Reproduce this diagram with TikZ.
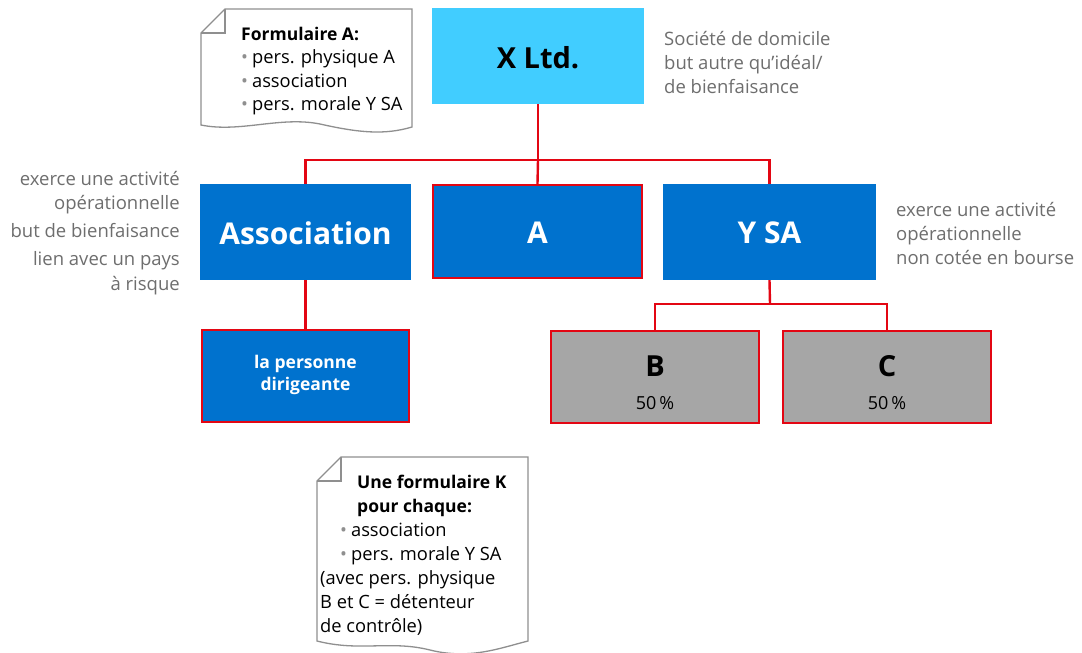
\documentclass[tikz,border=0pt]{standalone}
\usepackage{fontspec}
\setmainfont{Open Sans}
\definecolor{cyanbox}{HTML}{41CDFF}
\definecolor{bluebox}{HTML}{0072CE}
\definecolor{graybox}{HTML}{A6A6A6}
\definecolor{redline}{HTML}{E30613}
\definecolor{graytxt}{HTML}{6E6E6E}
\definecolor{docline}{HTML}{8F8F8F}
\definecolor{bulletc}{HTML}{8F8F8F}
\newcommand{\bul}{{\color{bulletc}\textbullet}\hspace{4pt}}
\tikzset{
  box/.style={rectangle, inner sep=0pt, minimum width=211pt, minimum height=96pt, align=center},
  redborder/.style={draw=redline, line width=2.4pt},
  conn/.style={draw=redline, line width=2.4pt},
  bigw/.style={text=white, font=\fontsize{30}{32}\selectfont\bfseries},
  bigk/.style={text=black, font=\fontsize{29}{32}\selectfont\bfseries},
  note/.style={text=graytxt, font=\fontsize{18.5}{22}\selectfont, inner sep=0pt},
  doctxt/.style={text=black, font=\fontsize{18.3}{22}\selectfont, inner sep=0pt, anchor=base west},
  docbold/.style={doctxt, font=\fontsize{17.5}{22}\selectfont\bfseries},
  docshape/.style={draw=docline, line width=1.3pt, fill=white},
}
\begin{document}
\begin{tikzpicture}[x=1pt,y=-1pt]
\useasboundingbox[fill=white] (0,0) rectangle (1082,653);

% boxes
\node[box, fill=cyanbox, minimum width=212pt] (x) at (538,56) {};
\node[bigk] (xl) at (538,58) {X Ltd.};
\node[box, fill=bluebox] (assoc) at (305.5,232) {};
\node[bigw] (assocl) at (305.5,233) {Association};
\node[box, fill=bluebox, redborder, minimum width=209pt, minimum height=93pt] (a) at (537.5,231.5) {};
\node[bigw] (al) at (537.5,233) {A};
\node[box, fill=bluebox, minimum width=213pt] (ysa) at (769.5,232) {};
\node[bigw] (ysal) at (769.5,233) {Y SA};
\node[box, fill=bluebox, redborder, minimum width=207pt, minimum height=92pt] (pers) at (305.5,376) {};
\node[text=white, font=\fontsize{17.5}{22}\selectfont\bfseries, align=center] (persl) at (305.5,375) {la personne\\dirigeante};
\node[box, fill=graybox, redborder, minimum width=208pt, minimum height=92pt] (b) at (655,377) {};
\node[bigk] (bl) at (655,366) {B};
\node[font=\fontsize{18}{20}\selectfont] (bp) at (655,403) {50\,\%};
\node[box, fill=graybox, redborder, minimum width=208pt, minimum height=92pt] (c) at (887,377) {};
\node[bigk] (cl) at (887,366) {C};
\node[font=\fontsize{18}{20}\selectfont] (cp) at (887,403) {50\,\%};

% connectors
\coordinate (j1) at (538,160);
\coordinate (j2) at (770,304);
\draw[conn] (x.south) -- (j1);
\draw[conn] (assoc.north) |- (j1) -| (ysa.north);
\draw[conn] (j1) -- (a.north);
\draw[conn] (assoc.south) -- (pers.north);
\draw[conn] (ysa.south) -- (j2);
\draw[conn] (b.north) |- (j2) -| (c.north);

% notes
\node[note, anchor=base west] (n1) at (664,45) {Société de domicile};
\node[note, anchor=base west] (n2) at (664,69) {but autre qu’idéal/};
\node[note, anchor=base west] (n3) at (664,93) {de bienfaisance};

\node[note, anchor=base east] (l1) at (180,185) {exerce une activité};
\node[note, anchor=base east] (l2) at (180,209) {opérationnelle};
\node[note, anchor=base east] (l3) at (180,237) {but de bienfaisance};
\node[note, anchor=base east] (l4) at (180,265) {lien avec un pays};
\node[note, anchor=base east] (l5) at (180,290) {à risque};

\node[note, anchor=base west] (r1) at (896,216) {exerce une activité};
\node[note, anchor=base west] (r2) at (896,240) {opérationnelle};
\node[note, anchor=base west] (r3) at (896,264) {non cotée en bourse};

% document A
\draw[docshape] (225,9) -- (412,9) -- (412,127)
  .. controls (385,135) and (360,133) .. (320,124)
  .. controls (280,116) and (240,133) .. (201,125) -- (201,33) -- cycle;
\draw[docshape, fill=none] (225,9) -- (225,33) -- (201,33);
\node[docbold] (fa0) at (241,40) {Formulaire A:};
\node[doctxt] (fa1) at (241,63.5) {\bul pers. physique A};
\node[doctxt] (fa2) at (241,87) {\bul association};
\node[doctxt] (fa3) at (241,110.5) {\bul pers. morale Y SA};

% document K
\draw[docshape] (341,457) -- (528,457) -- (528,641)
  .. controls (500,648) and (470,660) .. (430,650)
  .. controls (390,640) and (360,652) .. (317,641) -- (317,481) -- cycle;
\draw[docshape, fill=none] (341,457) -- (341,481) -- (317,481);
\node[docbold] (fk0) at (357,488) {Une formulaire K};
\node[docbold] (fk1) at (357,512) {pour chaque:};
\node[doctxt] (fk2) at (340,536) {\bul association};
\node[doctxt] (fk3) at (340,560) {\bul pers. morale Y SA};
\node[doctxt] (fk4) at (320,584) {(avec pers. physique};
\node[doctxt] (fk5) at (320,608) {B et C = détenteur};
\node[doctxt] (fk6) at (320,632) {de contrôle)};
\end{tikzpicture}
\end{document}
